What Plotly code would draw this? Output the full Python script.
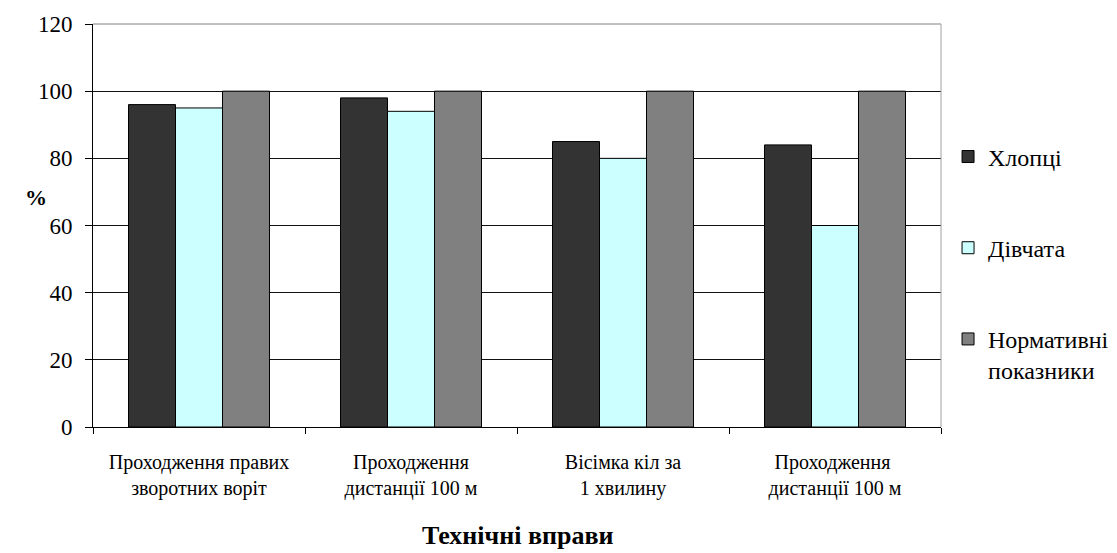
import plotly.graph_objects as go

categories = [
    "Проходження правих<br>зворотних воріт",
    "Проходження<br>дистанції 100 м",
    "Вісімка кіл за<br>1 хвилину",
    "Проходження <br>дистанції 100 м",
]
boys = [96, 98, 85, 84]
girls = [95, 94, 80, 60]
norm = [100, 100, 100, 100]

series_names = ["Хлопці", "Дівчата", "Нормативні<br>показники"]
series_colors = ["#333333", "#CCFFFF", "#808080"]

FONT = "Liberation Serif"

fig = go.Figure()
for i, (name, vals, col) in enumerate(zip(series_names, [boys, girls, norm], series_colors)):
    fig.add_trace(go.Bar(
        x=categories, y=vals, name=name,
        marker=dict(color=col, line=dict(color="#000000", width=1)),
        legendgroup=f"g{i}",
    ))

fig.update_layout(
    width=1117, height=553,
    margin=dict(l=93, r=176, t=24, b=126, autoexpand=False),
    paper_bgcolor="white", plot_bgcolor="white",
    barmode="group", bargap=0.335, bargroupgap=0,
    font=dict(family=FONT, color="#000000"),
    showlegend=True,
    legend=dict(
        x=1.0083, xanchor="left", y=0.726, yanchor="top",
        font=dict(size=24, family=FONT),
        tracegroupgap=57, traceorder="grouped", valign="top",
        bgcolor="rgba(0,0,0,0)",
    ),
    xaxis=dict(
        showline=True, linecolor="#000000", linewidth=1,
        ticks="outside", tickson="boundaries", ticklen=6, tickcolor="#000000",
        tickfont=dict(size=20, family=FONT),
        ticklabelstandoff=17,
        showgrid=False, fixedrange=True,
    ),
    yaxis=dict(
        range=[0, 120], dtick=20, tick0=0,
        showline=True, linecolor="#000000", linewidth=1,
        ticks="outside", ticklen=7, tickcolor="#000000",
        tickfont=dict(size=23, family=FONT),
        ticklabelstandoff=8,
        showgrid=True, gridcolor="#111111", gridwidth=1,
        zeroline=False, fixedrange=True,
    ),
    shapes=[
        dict(type="line", xref="paper", yref="paper", x0=0, x1=1, y0=1, y1=1,
             line=dict(color="#808080", width=1), layer="above"),
        dict(type="line", xref="paper", yref="paper", x0=1, x1=1, y0=0, y1=1,
             line=dict(color="#A0A0A0", width=1), layer="above"),
    ],
    annotations=[
        dict(text="<b>%</b>", xref="paper", yref="paper", x=-0.083, y=0.57,
             showarrow=False, font=dict(size=22, family=FONT)),
        dict(text="<b>Технічні вправи</b>", xref="paper", yref="paper", x=0.5, y=-0.31,
             yanchor="bottom", showarrow=False, font=dict(size=26, family=FONT)),
    ],
)

fig.write_html("out.html")
